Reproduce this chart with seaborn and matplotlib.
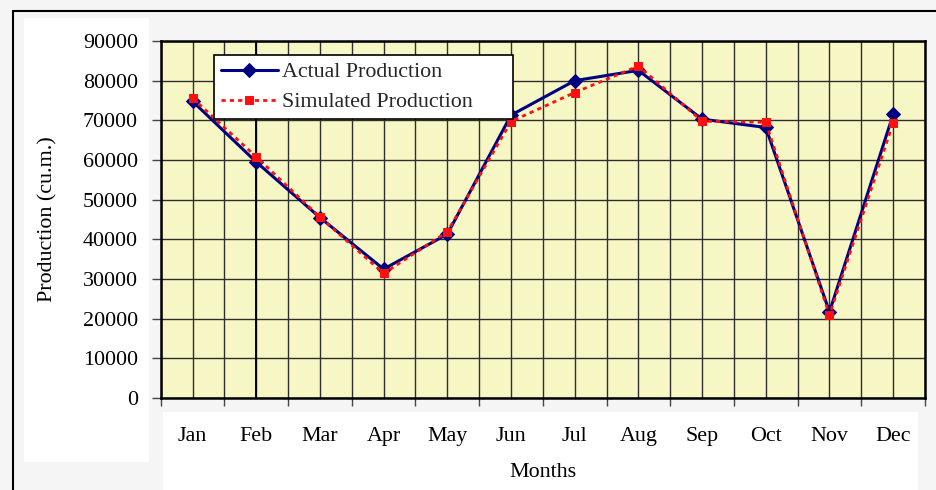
import numpy as np
import pandas as pd
import matplotlib
matplotlib.use("Agg")
import matplotlib.pyplot as plt
from matplotlib.lines import Line2D
from matplotlib.patches import Rectangle
from matplotlib.ticker import MultipleLocator, FixedLocator
import seaborn as sns

months = ["Jan", "Feb", "Mar", "Apr", "May", "Jun", "Jul", "Aug", "Sep", "Oct", "Nov", "Dec"]
actual = [74800, 59500, 45500, 32500, 41300, 71300, 80000, 82600, 70300, 68200, 21700, 71500]
simulated = [75600, 60800, 45600, 31400, 41900, 69700, 77000, 83700, 69800, 69500, 20900, 69400]
y_ticks = [0, 10000, 20000, 30000, 40000, 50000, 60000, 70000, 80000, 90000]

sns.set_theme(style="white")
plt.rcParams["font.family"] = ["Liberation Serif", "DejaVu Serif"]

FS = 15.8

df = pd.DataFrame({"month": months, "Actual": actual, "Simulated": simulated})
df["pos"] = np.arange(len(months)) + 0.5

fig = plt.figure(figsize=(9.37, 4.90), dpi=100, facecolor="#F5F5F5")

# white panels and outer frame
fig.add_artist(Rectangle((24 / 937, 1 - 462 / 490), (149 - 24) / 937, (462 - 18) / 490,
                         transform=fig.transFigure, facecolor="white", edgecolor="none", zorder=0))
fig.add_artist(Rectangle((163 / 937, 0), (918 - 163) / 937, (490 - 412) / 490,
                         transform=fig.transFigure, facecolor="white", edgecolor="none", zorder=0))
fig.add_artist(Line2D([13 / 937, 1], [1 - 11 / 490, 1 - 11 / 490], transform=fig.transFigure,
                      color="black", lw=1.5))
fig.add_artist(Line2D([13 / 937, 13 / 937], [0, 1 - 11 / 490], transform=fig.transFigure,
                      color="black", lw=1.5))

ax = fig.add_axes([160.7 / 937, 1 - 398 / 490, (925 - 160.7) / 937, (398 - 41) / 490])
ax.set_facecolor("#F7F7C6")

sns.lineplot(data=df, x="pos", y="Actual", ax=ax, color="#000080", marker="D",
             markersize=7, markeredgecolor="#000080", lw=2.2, label="Actual Production", zorder=4)
sns.lineplot(data=df, x="pos", y="Simulated", ax=ax, color="#FF1010", marker="s",
             markersize=6, markeredgecolor="#FF1010", lw=2, linestyle=(0, (1.5, 1.5)),
             label="Simulated Production", zorder=5)

ax.set_xlim(0, len(months))
ax.set_ylim(0, 90000)

ax.xaxis.set_major_locator(MultipleLocator(1))
ax.xaxis.set_minor_locator(FixedLocator(df["pos"].tolist()))
ax.set_xticklabels([], minor=False)
ax.set_xticklabels(months, minor=True)
ax.tick_params(axis="x", which="major", length=6, width=1, color="#444444", direction="out", bottom=True)
ax.tick_params(axis="x", which="minor", length=0, pad=21, labelsize=FS, labelcolor="black")

ax.set_yticks(y_ticks)
ax.set_yticklabels([str(v) for v in y_ticks])
ax.tick_params(axis="y", length=6.5, width=1, color="#444444", direction="out", left=True,
               pad=10, labelsize=FS, labelcolor="black")

ax.grid(True, which="both", axis="x", color="#2e2e2e", lw=1.0)
ax.grid(True, which="major", axis="y", color="#2e2e2e", lw=1.0)
ax.set_axisbelow(True)
ax.axvline(1.5, color="black", lw=1.4, zorder=2)

for s in ax.spines.values():
    s.set_visible(True)
    s.set_color("black")
    s.set_linewidth(1.8)

ax.set_xlabel("Months", fontsize=FS, labelpad=12, color="black")
ax.set_ylabel("Production (cu.m.)", fontsize=FS, labelpad=18, color="black")

leg = ax.legend(loc="upper left", bbox_to_anchor=(0.070, 0.96), borderaxespad=0,
                frameon=False, fontsize=FS, handlelength=2.6, handletextpad=0.2,
                labelspacing=0.45, borderpad=0.3)
leg.set_zorder(7)

# legend box, widened on the right like the original
fig.canvas.draw()
bb = leg.get_window_extent().transformed(ax.transAxes.inverted())
box_right = (513 - 160.7) / (925 - 160.7)
ax.add_patch(Rectangle((bb.x0, bb.y0), box_right - bb.x0, bb.height, transform=ax.transAxes,
                       facecolor="white", edgecolor="black", lw=1.2, zorder=6))

fig.savefig("out.png", dpi=100, facecolor=fig.get_facecolor())
